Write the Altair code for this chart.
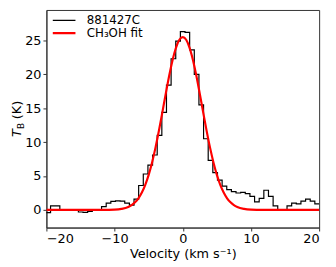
import altair as alt
import pandas as pd

# ---- data ----
series_names = ["881427C", "CH₃OH fit"]

# spectrum: channel left edges (km/s) start and width; brightness temperature per channel (K)
chan_start = -20.07
chan_width = 0.68
tb_obs = [-0.4, 0.6, 0.6, -0.05, -0.05, 0.0, -0.05, -0.3, -0.35, -0.2,
          0.0, 0.0, 0.5, 1.0, 1.25, 1.35, 1.3, 1.0, 0.7, 1.6,
          3.6, 5.3, 6.6, 8.1, 11.0, 14.4, 18.4, 22.3, 24.9, 26.3,
          26.2, 23.6, 20.0, 15.5, 10.5, 7.3, 5.5, 4.4, 3.5, 3.0,
          2.7, 2.5, 2.6, 2.4, 2.0, 1.2, 1.7, 2.9, 2.0, 0.6,
          0.0, -0.05, 0.6, 1.0, 0.9, 1.3, 1.6, 1.3, 0.9]

# fit curve
fit_v = [-20, -15, -12, -11, -10, -9, -8, -7.5, -7, -6.5, -6, -5.5, -5, -4.5, -4,
         -3.5, -3, -2.5, -2, -1.5, -1, -0.5, 0, 0.5, 1, 1.5, 2, 2.5, 3, 3.5, 4,
         4.5, 5, 5.5, 6, 6.5, 7, 7.5, 8, 9, 10, 11, 12, 15, 20]
fit_t = [0, 0, 0, 0.01, 0.04, 0.15, 0.43, 0.71, 1.12, 1.72, 2.57, 3.71, 5.18, 7.01, 9.19,
         11.67, 14.36, 17.12, 19.76, 22.09, 23.92, 25.10, 25.5, 25.10, 23.92, 22.09, 19.76, 17.12, 14.36, 11.67, 9.19,
         7.01, 5.18, 3.71, 2.57, 1.72, 1.12, 0.71, 0.43, 0.15, 0.04, 0.01, 0, 0, 0]

x_ticks = [-20, -10, 0, 10, 20]
y_ticks = [0, 5, 10, 15, 20, 25]

# ---- tables ----
edges = [round(chan_start + chan_width * i, 3) for i in range(len(tb_obs) + 1)]
df_obs = pd.DataFrame({"v": edges, "t": tb_obs + [tb_obs[-1]], "series": series_names[0]})
df_fit = pd.DataFrame({"v": fit_v, "t": fit_t, "series": series_names[1]})

FONT = "DejaVu Sans"
color_scale = alt.Scale(domain=series_names, range=["black", "#ff0000"])
sw_scale = alt.Scale(domain=series_names, range=[1.2, 2.2])
leg = alt.Legend(title=None, orient="none", legendX=5, legendY=4, symbolType="stroke",
                 symbolSize=530, labelFontSize=12, labelFont=FONT, labelColor="black",
                 labelOffset=10, clipHeight=13, rowPadding=0, padding=0)

minus_expr = "replace(datum.label, '-', '\u2212')"
x_enc = alt.X("v:Q", scale=alt.Scale(domain=[-20, 20], nice=False),
              axis=alt.Axis(values=x_ticks, title="Velocity (km s⁻¹)", format="d", labelExpr=minus_expr))
y_enc = alt.Y("t:Q", scale=alt.Scale(domain=[-2.6, 29.5], nice=False, zero=False),
              axis=alt.Axis(values=y_ticks, title=None, format="d"))

hist = alt.Chart(df_obs).mark_line(interpolate="step-after", clip=True).encode(
    x=x_enc, y=y_enc,
    color=alt.Color("series:N", scale=color_scale, legend=leg),
    strokeWidth=alt.StrokeWidth("series:N", scale=sw_scale, legend=leg),
)
fit = alt.Chart(df_fit).mark_line(interpolate="monotone", clip=True).encode(
    x=x_enc, y=y_enc,
    color=alt.Color("series:N", scale=color_scale, legend=leg),
    strokeWidth=alt.StrokeWidth("series:N", scale=sw_scale, legend=leg),
)

# y-axis title: italic T with upright subscript B, then (K)
yt_T = alt.Chart(pd.DataFrame({"s": ["T"]})).mark_text(
    angle=270, align="left", baseline="middle", fontStyle="italic", fontSize=13, font=FONT, color="black"
).encode(text="s:N", x=alt.value(-30), y=alt.value(129))
yt_B = alt.Chart(pd.DataFrame({"s": ["B"]})).mark_text(
    angle=270, align="left", baseline="middle", fontSize=9, font=FONT, color="black"
).encode(text="s:N", x=alt.value(-26), y=alt.value(121))
yt_K = alt.Chart(pd.DataFrame({"s": ["(K)"]})).mark_text(
    angle=270, align="left", baseline="middle", fontSize=13, font=FONT, color="black"
).encode(text="s:N", x=alt.value(-30), y=alt.value(111))

chart = alt.layer(hist, fit, yt_T, yt_B, yt_K).properties(
    width=277, height=221,
    autosize=alt.AutoSizeParams(type="none"),
    padding={"left": 39, "top": 0, "right": 9, "bottom": 34},
).configure_view(
    stroke="#333", strokeWidth=1
).configure_axis(
    grid=False, domainColor="#333", tickColor="#333", tickSize=3.5,
    labelFont=FONT, labelFontSize=13, labelColor="black", labelPadding=2,
    titleFont=FONT, titleFontSize=13, titleFontWeight="normal", titleColor="black",
).configure_axisX(titlePadding=2)

chart.save("out.html", embed_options={"renderer": "svg", "actions": False})
